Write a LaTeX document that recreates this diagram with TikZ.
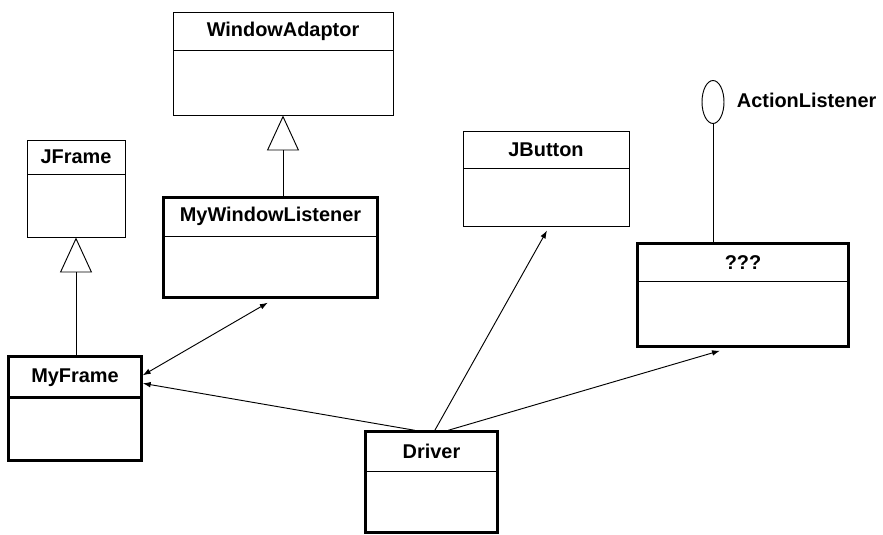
\documentclass[tikz,border=0pt]{standalone}
\usepackage{fontspec}
\setmainfont{Liberation Sans}
\usepackage{tikz}
\usetikzlibrary{arrows.meta, shapes.geometric, positioning, calc}
\newcommand{\umlfont}{\fontsize{17}{20}\selectfont\bfseries}
\tikzset{
	cls/.style={draw, line width=0.8pt, inner sep=0pt},
	thickcls/.style={cls, line width=2.6pt},
	clstitle/.style={draw, line width=0.8pt, inner sep=0pt, anchor=north, font=\umlfont},
	inherit/.style={draw, line width=0.8pt, -{Triangle[open, length=1.05cm, width=0.96cm]}},
	assoc/.style={draw, line width=0.8pt, -{Latex[length=2.4mm, width=1.7mm]}},
	assocboth/.style={draw, line width=0.8pt, {Latex[length=2.4mm, width=1.7mm]}-{Latex[length=2.4mm, width=1.7mm]}}
}

\begin{document}
\begin{tikzpicture}[
    % Arial-like bold text as in the image
    font=\umlfont,
    % lollipop of an interface
    lollipop/.style={ellipse, draw, line width=0.8pt, minimum width=0.66cm, minimum height=1.29cm, inner sep=0pt}
]
\useasboundingbox (0,0) rectangle (26.49,16.05);

% --- SUPER CLASSES ---
\node[cls, minimum width=6.6cm, minimum height=3.09cm] (wadapt) at (8.49, 14.145) {};
\node[clstitle, minimum width=6.6cm, minimum height=1.14cm] (wadapt-t) at (wadapt.north) {WindowAdaptor};

\node[cls, minimum width=2.94cm, minimum height=2.91cm] (jframe) at (2.28, 10.395) {};
\node[clstitle, minimum width=2.94cm, minimum height=1.02cm] (jframe-t) at (jframe.north) {JFrame};

\node[cls, minimum width=4.98cm, minimum height=2.85cm] (jbutton) at (16.38, 10.695) {};
\node[clstitle, minimum width=4.98cm, minimum height=1.11cm] (jbutton-t) at (jbutton.north) {JButton};

% --- OWN CLASSES (thick) ---
\node[thickcls, minimum width=6.4cm, minimum height=2.98cm] (mwl) at (8.115, 8.625) {};
\node[clstitle, minimum width=6.4cm, minimum height=1.2cm] (mwl-t) at (mwl.north) {MyWindowListener};

\node[thickcls, minimum width=3.97cm, minimum height=3.1cm] (myframe) at (2.25, 3.795) {};
\node[clstitle, line width=2.6pt, minimum width=3.97cm, minimum height=1.23cm] (myframe-t) at (myframe.north) {MyFrame};

\node[thickcls, minimum width=6.31cm, minimum height=3.07cm] (qqq) at (22.29, 7.2) {};
\node[clstitle, minimum width=6.31cm, minimum height=1.17cm] (qqq-t) at (qqq.north) {???};

\node[thickcls, minimum width=3.94cm, minimum height=3.01cm] (driver) at (12.945, 1.59) {};
\node[clstitle, minimum width=3.94cm, minimum height=1.23cm] (driver-t) at (driver.north) {Driver};

% --- INTERFACE ---
\node[lollipop] (alist) at (21.39, 12.99) {};
\node[anchor=west] (alist-l) at ([xshift=0.25cm, yshift=0.06cm]alist.east) {ActionListener};
\draw[line width=0.8pt] (alist.south) -- (alist.south |- qqq.north);

% --- GENERALIZATION ---
\draw[inherit] (mwl.north -| wadapt.south) -- (wadapt.south);
\draw[inherit] (myframe.north -| jframe.south) -- (jframe.south);

% --- ASSOCIATIONS ---
\draw[assocboth] ([yshift=0.06cm]myframe-t.east) -- ([xshift=-0.08cm, yshift=-0.12cm]mwl.south);
\draw[assoc] ([xshift=-0.5cm]driver.north) -- ([yshift=-0.18cm]myframe-t.east);
\draw[assoc] ([xshift=0.1cm]driver.north) -- ([xshift=0.03cm, yshift=-0.12cm]jbutton.south);
\draw[assoc] ([xshift=0.5cm]driver.north) -- ([xshift=-0.69cm, yshift=-0.09cm]qqq.south);

\end{tikzpicture}
\end{document}
